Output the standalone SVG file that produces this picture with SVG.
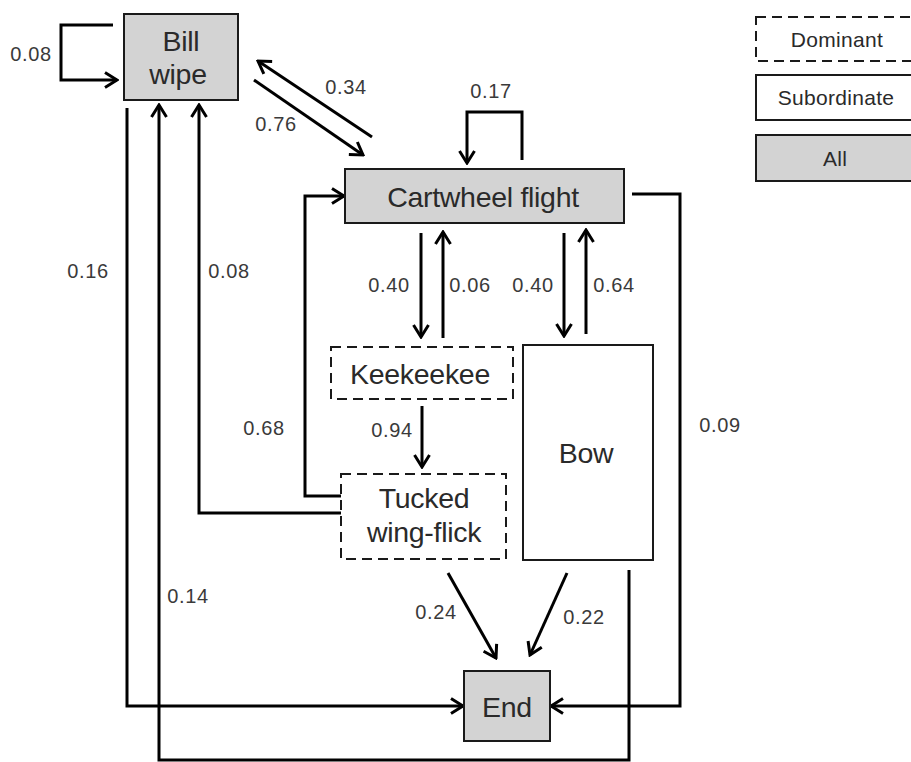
<svg xmlns="http://www.w3.org/2000/svg" width="911" height="762" viewBox="0 0 911 762">
<style>
.box{stroke:#1a1a1a;stroke-width:2}
.all{fill:#d3d3d3}
.sub{fill:#fff}
.dom{fill:#fff;stroke-dasharray:10 6}
.nt{font-family:"Liberation Sans",Arial,sans-serif;font-size:28.5px;fill:#2a2a2a;text-anchor:middle;letter-spacing:-0.3px}
.lt{font-family:"Liberation Sans",Arial,sans-serif;font-size:20px;fill:#3a3a3a;text-anchor:middle;letter-spacing:0.6px}
.gt{font-family:"Liberation Sans",Arial,sans-serif;font-size:21px;fill:#2a2a2a;text-anchor:middle;letter-spacing:0.3px}
.c{fill:none;stroke:#000;stroke-width:3;marker-end:url(#ah)}
</style>
<defs>
<marker id="ah" markerUnits="userSpaceOnUse" viewBox="0 0 16 18" refX="14" refY="9" markerWidth="16" markerHeight="18" orient="auto">
<path d="M2,1.5 L14,9 L2,16.5" fill="none" stroke="#000" stroke-width="3"/>
</marker>
</defs>
<rect width="911" height="762" fill="#fff"/>
<g id="connectors">
<path class="c" d="M113,25 H61 V80 H117"/>
<path class="c" d="M372,137 L258,61"/>
<path class="c" d="M254,80 L363,155"/>
<path class="c" d="M522,160 V112 H467 V163"/>
<path class="c" d="M421,233 V337"/>
<path class="c" d="M443,338 V232"/>
<path class="c" d="M564,233 V336"/>
<path class="c" d="M586,334 V230"/>
<path class="c" d="M422,406 V467"/>
<path class="c" d="M341,496 H305 V196 H344"/>
<path class="c" d="M341,513 H199 V105"/>
<path class="c" d="M127,108 V706 H463"/>
<path class="c" d="M629,570 V760 H159 V105"/>
<path class="c" d="M632,194 H680 V706 H551"/>
<path class="c" d="M448,573 L496,658"/>
<path class="c" d="M567,573 L530,655"/>
</g>
<g id="labels">
<text class="lt" x="31" y="61">0.08</text>
<text class="lt" x="346" y="94">0.34</text>
<text class="lt" x="276" y="131">0.76</text>
<text class="lt" x="491" y="98">0.17</text>
<text class="lt" x="389" y="292">0.40</text>
<text class="lt" x="470" y="292">0.06</text>
<text class="lt" x="533" y="292">0.40</text>
<text class="lt" x="614" y="292">0.64</text>
<text class="lt" x="88" y="278">0.16</text>
<text class="lt" x="229" y="278">0.08</text>
<text class="lt" x="264" y="435">0.68</text>
<text class="lt" x="392" y="437">0.94</text>
<text class="lt" x="720" y="432">0.09</text>
<text class="lt" x="188" y="603">0.14</text>
<text class="lt" x="436" y="619">0.24</text>
<text class="lt" x="584" y="624">0.22</text>
</g>
<g id="bill-wipe">
<rect class="box all" x="124" y="14" width="114" height="86"/>
<text class="nt" x="181" y="51">Bill</text>
<text class="nt" x="178" y="84">wipe</text>
</g>
<g id="cartwheel-flight">
<rect class="box all" x="345" y="169" width="279" height="54"/>
<text class="nt" x="483" y="207">Cartwheel flight</text>
</g>
<g id="keekeekee">
<rect class="box dom" x="331" y="347" width="182" height="52"/>
<text class="nt" x="420" y="384">Keekeekee</text>
</g>
<g id="tucked-wing-flick">
<rect class="box dom" x="341" y="474" width="165" height="85"/>
<text class="nt" x="424" y="508">Tucked</text>
<text class="nt" x="424" y="542">wing-flick</text>
</g>
<g id="bow">
<rect class="box sub" x="523" y="345" width="130" height="215"/>
<text class="nt" x="586" y="463">Bow</text>
</g>
<g id="end">
<rect class="box all" x="464" y="671" width="86" height="70"/>
<text class="nt" x="507" y="717">End</text>
</g>
<g id="legend">
<rect class="box dom" x="756" y="17" width="160" height="44"/>
<text class="gt" x="837" y="47">Dominant</text>
<rect class="box sub" x="756" y="75" width="160" height="45"/>
<text class="gt" x="836" y="105">Subordinate</text>
<rect class="box all" x="756" y="135" width="160" height="46"/>
<text class="gt" x="835" y="166">All</text>
</g>
</svg>
